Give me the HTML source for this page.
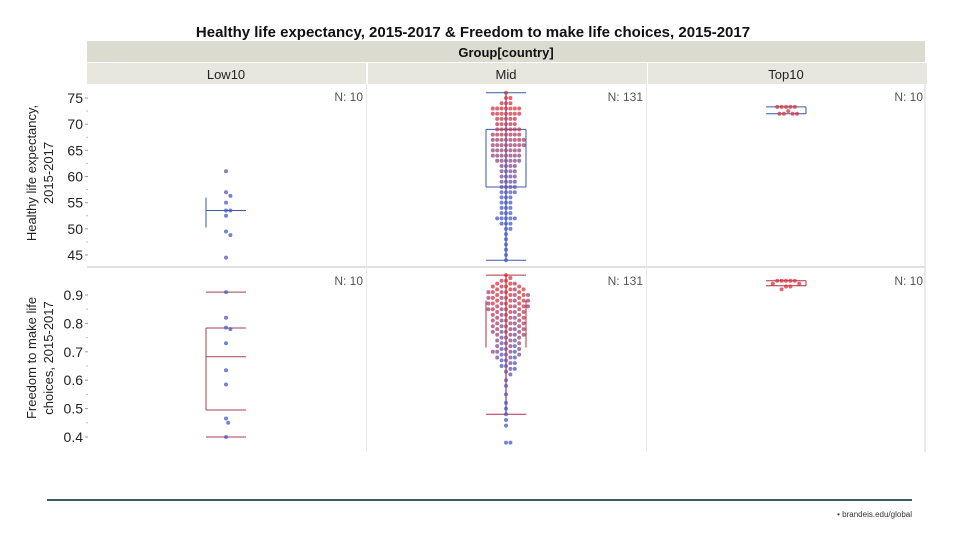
<!DOCTYPE html>
<html><head><meta charset="utf-8">
<style>
body{margin:0;background:#fff;font-family:"Liberation Sans",sans-serif;}
#wrap{position:relative;width:960px;height:540px;overflow:hidden;}
</style></head>
<body>
<div id="wrap">
<svg id="chart" width="960" height="540"></svg>
</div>
<script>
const groups=["Low10","Mid","Top10"];
const counts=["N: 10","N: 131","N: 10"];
const lifeTicks=[45,50,55,60,65,70,75];
const freeTicks=[0.4,0.5,0.6,0.7,0.8,0.9];
const lowLife=[61,57,56.3,55,53.5,53.5,52.5,49.5,48.8,44.5];
const lowFree=[0.91,0.82,0.785,0.78,0.73,0.635,0.585,0.465,0.45,0.40];
const topLife=[73.3,73.3,73.3,73.3,73.3,72.5,72,72,72,72];
const topFree=[0.95,0.95,0.95,0.95,0.95,0.94,0.94,0.93,0.93,0.92];
const midLifeBins=[76,75,74,73,72,71,70,69,68,67,66,65,64,63,62,61,60,59,58,57,56,55,54,53,52,51,50,49,48,47,46,45,44];
const midLifeCounts=[1,2,3,7,7,5,5,6,7,8,8,7,7,6,4,4,4,4,4,4,3,3,3,3,5,3,2,1,1,1,1,1,1];
const midFreeBins=[0.97,0.96,0.95,0.94,0.93,0.92,0.91,0.90,0.89,0.88,0.87,0.86,0.85,0.84,0.83,0.82,0.81,0.80,0.79,0.78,0.77,0.76,0.75,0.74,0.73,0.72,0.71,0.70,0.69,0.68,0.67,0.66,0.65,0.64,0.63,0.62,0.60,0.58,0.55,0.52,0.50,0.48,0.46,0.44,0.38];
const midFreeCounts=[1,1,2,3,4,4,5,5,5,5,5,5,5,4,4,4,4,4,4,4,4,4,3,3,3,3,3,4,3,3,2,2,2,2,1,1,1,1,1,1,1,1,1,1,2];

const NS="http://www.w3.org/2000/svg";
const svg=document.getElementById('chart');
function mk(t,a,p){const e=document.createElementNS(NS,t);for(const k in a)e.setAttribute(k,a[k]);(p||svg).appendChild(e);return e;}
function txt(s,a,p){const e=mk('text',a,p);e.textContent=s;return e;}
const yLife=v=>98+(75-v)*(157/30);
const yFree=v=>295+(0.9-v)*(142/0.5);
const cx=[226,506,786];
function expand(b,c){const o=[];b.forEach((v,i)=>{for(let k=0;k<c[i];k++)o.push(v);});return o;}
const midLife=expand(midLifeBins,midLifeCounts);
const midFree=expand(midFreeBins,midFreeCounts);
function q(arr,p){const s=[...arr].sort((a,b)=>a-b);const pos=(s.length-1)*p;const lo=Math.floor(pos),hi=Math.ceil(pos);return s[lo]+(s[hi]-s[lo])*(pos-lo);}
function col(t){t=Math.max(0,Math.min(1,t));const r=Math.round(70+t*(220-70)),g=Math.round(90-t*40),b=Math.round(200-t*140);return `rgb(${r},${g},${b})`;}

const title=txt("Healthy life expectancy, 2015-2017 & Freedom to make life choices, 2015-2017",{x:473,y:37,'text-anchor':'middle','font-size':15,'font-weight':'bold',fill:'#111'});

const h1=mk('rect',{x:87,y:41,width:838,height:21,fill:'#dcdbd0'});

const gt=txt("Group[country]",{x:506,y:57,'text-anchor':'middle','font-size':13,'font-weight':'bold',fill:'#111'});

groups.forEach((g,i)=>{
  const r=mk('rect',{x:87+i*280+(i?1:0),y:63,width:279,height:21,fill:'#e8e7df'});
  
  const t=txt(g,{x:cx[i],y:79,'text-anchor':'middle','font-size':13,fill:'#222'});
  
});
mk('line',{x1:87,y1:267,x2:925,y2:267,stroke:'#d6d6d6','stroke-width':1.5});
mk('line',{x1:925,y1:84,x2:925,y2:452,stroke:'#d6d6d6','stroke-width':1});
mk('line',{x1:366.5,y1:84,x2:366.5,y2:452,stroke:'#eaeaea','stroke-width':1});
mk('line',{x1:646.5,y1:84,x2:646.5,y2:452,stroke:'#eaeaea','stroke-width':1});
lifeTicks.forEach(v=>{const y=yLife(v);
  const t=txt(String(v),{x:83,y:y+5,'text-anchor':'end','font-size':14,fill:'#222'});
  
  mk('line',{x1:85,y1:y,x2:88,y2:y,stroke:'#999'});
  if(v<75)mk('line',{x1:86,y1:yLife(v+2.5),x2:88,y2:yLife(v+2.5),stroke:'#bbb'});});
freeTicks.forEach(v=>{const y=yFree(v);
  const t=txt(v.toFixed(1),{x:83,y:y+5,'text-anchor':'end','font-size':14,fill:'#222'});
  
  mk('line',{x1:85,y1:y,x2:88,y2:y,stroke:'#999'});
  if(v<0.9)mk('line',{x1:86,y1:yFree(v+0.05),x2:88,y2:yFree(v+0.05),stroke:'#bbb'});});
const a1=txt("Healthy life expectancy,",{x:0,y:0,'text-anchor':'middle','font-size':13,fill:'#222',transform:'translate(36,173) rotate(-90)'});

txt("2015-2017",{x:0,y:0,'text-anchor':'middle','font-size':13,fill:'#222',transform:'translate(53,173) rotate(-90)'});
const a2=txt("Freedom to make life",{x:0,y:0,'text-anchor':'middle','font-size':13,fill:'#222',transform:'translate(36,358) rotate(-90)'});

txt("choices, 2015-2017",{x:0,y:0,'text-anchor':'middle','font-size':13,fill:'#222',transform:'translate(53,358) rotate(-90)'});
[[0,98],[1,98],[2,98],[0,282],[1,282],[2,282]].forEach(([i,y])=>{
  const t=txt(counts[i],{x:363+i*280,y:y+3,'text-anchor':'end','font-size':12,fill:'#555'});
  });

function panel(vals,colT,x,ys,boxCol,opt){
  const q1=q(vals,0.25),md=q(vals,0.5),q3=q(vals,0.75),iqr=q3-q1;
  const inr=vals.filter(v=>v>=q1-1.5*iqr&&v<=q3+1.5*iqr);
  const mn=Math.min(...inr),mx=Math.max(...inr);
  const L=x-20,R=x+20;
  if(opt.center)mk('line',{x1:x,y1:ys(mx),x2:x,y2:ys(mn),stroke:boxCol,'stroke-width':1.2});
  if(opt.left)mk('line',{x1:L,y1:ys(q3),x2:L,y2:ys(q1),stroke:boxCol,'stroke-width':1});
  if(opt.right)mk('line',{x1:R,y1:ys(q3),x2:R,y2:ys(q1),stroke:boxCol,'stroke-width':1});
  if(opt.edges){mk('line',{x1:L,y1:ys(q3),x2:R,y2:ys(q3),stroke:boxCol,'stroke-width':1});
    mk('line',{x1:L,y1:ys(q1),x2:R,y2:ys(q1),stroke:boxCol,'stroke-width':1});}
  if(opt.median)mk('line',{x1:L,y1:ys(md),x2:R,y2:ys(md),stroke:boxCol,'stroke-width':1});
  if(opt.caps){mk('line',{x1:L,y1:ys(mn),x2:R,y2:ys(mn),stroke:boxCol,'stroke-width':1});
    mk('line',{x1:L,y1:ys(mx),x2:R,y2:ys(mx),stroke:boxCol,'stroke-width':1});}
  // beeswarm with collision avoidance
  const D=4.3, placedPts=[], seen={};
  vals.forEach((v,i)=>{
    const y=ys(v);const key=v.toFixed(3);const k=seen[key]=(seen[key]||0);seen[key]++;
    let dx=0;
    for(let s=0;s<60;s++){
      const cand=(s===0)?0:((s%2)?1:-1)*Math.ceil(s/2)*2.2;
      if(placedPts.every(p=>(p[0]-cand)**2+(p[1]-y)**2>=D*D)){dx=cand;break;}
    }
    placedPts.push([dx,y]);
    const c=mk('circle',{cx:x+dx,cy:y,r:2,fill:col(colT(v,k)),'fill-opacity':0.75});
    });
}
const lifeT=v=>(v-55)/18;
panel(lowLife,lifeT,cx[0],yLife,'#3d5aa0',{left:true,median:true});
panel(midLife,lifeT,cx[1],yLife,'#3d5aa8',{center:true,left:true,right:true,edges:true,caps:true});
panel(topLife,lifeT,cx[2],yLife,'#3d5aa8',{right:true,edges:true});
panel(lowFree,()=>0,cx[0],yFree,'#a84050',{left:true,edges:true,median:true,caps:true});
panel(midFree,(v,k)=>(v-0.55)/0.35-(k%3===1?0.35:0),cx[1],yFree,'#b03040',{center:true,left:true,right:true,caps:true});
panel(topFree,()=>1,cx[2],yFree,'#b03040',{right:true,edges:true});
const fl=mk('line',{x1:47,y1:500,x2:912,y2:500,stroke:'#3f5a60','stroke-width':2});

const ft=txt("• brandeis.edu/global",{x:912,y:517,'text-anchor':'end','font-size':8,fill:'#333'});

</script>
</body></html>
